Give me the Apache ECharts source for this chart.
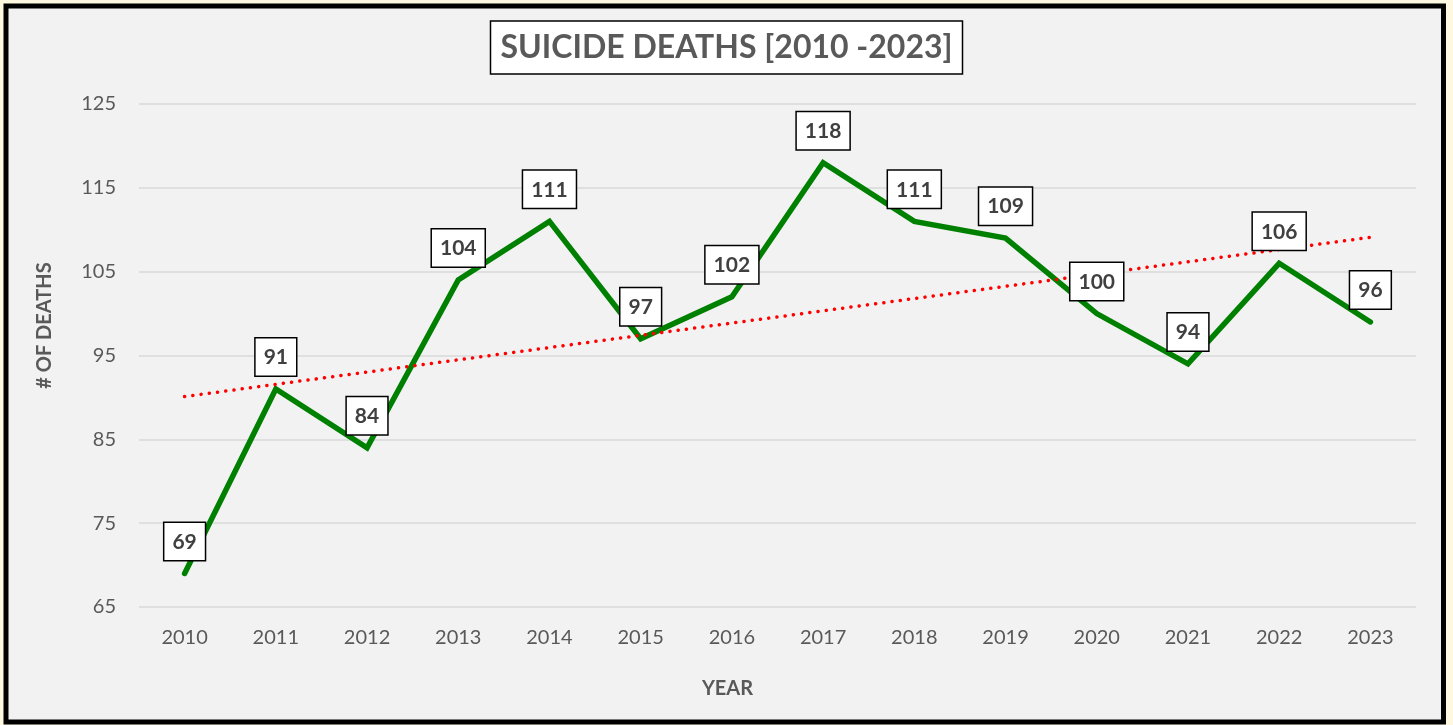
<!DOCTYPE html>
<html>
<head>
<meta charset="utf-8">
<script src="https://cdn.jsdelivr.net/npm/echarts@6/dist/echarts.min.js"></script>
<style>
  html, body { margin: 0; padding: 0; background: #fff8e1; }
  #chart { width: 1453px; height: 725px; }
</style>
</head>
<body>
<div id="chart"></div>
<script>
const years = ['2010', '2011', '2012', '2013', '2014', '2015', '2016', '2017', '2018', '2019', '2020', '2021', '2022', '2023'];
const deaths = [69, 91, 84, 104, 111, 97, 102, 118, 111, 109, 100, 94, 106, 99];
// labels as printed on the chart (last one reads 96)
const deathLabels = [69, 91, 84, 104, 111, 97, 102, 118, 111, 109, 100, 94, 106, 96];
// linear trend line ends
const trendStart = 90.1;
const trendEnd = 109.1;

const yTicks = { min: 65, max: 125, step: 10 };

const trend = years.map((y, i) => (i === 0 ? trendStart : i === years.length - 1 ? trendEnd : null));

const grey = '#595959';
const font = 'Lato, "Open Sans", sans-serif';

const chart = echarts.init(document.getElementById('chart'));

chart.setOption({
    animation: false,
    graphic: [
        {
            type: 'rect',
            z: -10,
            shape: { x: 6, y: 6, width: 1437.5, height: 716 },
            style: { fill: '#f2f2f2', stroke: '#000', lineWidth: 5 },
        },
    ],
    title: {
        text: 'SUICIDE DEATHS [2010 -2023]',
        left: 'center',
        top: 21,
        backgroundColor: '#fff',
        borderColor: '#000',
        borderWidth: 1.5,
        padding: [9, 10, 8, 10],
        textStyle: {
            fontFamily: font,
            fontSize: 32,
            fontWeight: 'bold',
            color: grey,
            lineHeight: 36,
        },
    },
    grid: { left: 139, right: 37, top: 104, bottom: 118 },
    xAxis: {
        type: 'category',
        data: years,
        boundaryGap: true,
        name: 'YEAR',
        nameLocation: 'middle',
        nameGap: 72,
        nameTextStyle: {
            fontFamily: font, fontSize: 20, fontWeight: 'bold', color: grey,
            padding: [0, 100, 0, 0],
        },
        axisLine: { show: false },
        axisTick: { show: false },
        axisLabel: { fontFamily: font, fontSize: 20, color: grey, margin: 21 },
    },
    yAxis: {
        type: 'value',
        min: yTicks.min,
        max: yTicks.max,
        interval: yTicks.step,
        name: '# OF DEATHS',
        nameLocation: 'middle',
        nameGap: 84,
        nameRotate: 90,
        nameTextStyle: {
            fontFamily: font, fontSize: 20, fontWeight: 'bold', color: grey,
            padding: [0, 0, 0, 60],
        },
        axisLine: { show: false },
        axisTick: { show: false },
        axisLabel: { fontFamily: font, fontSize: 20, color: grey, margin: 23 },
        splitLine: { lineStyle: { color: '#d9d9d9', width: 1.5 } },
    },
    series: [
        {
            name: 'Deaths',
            type: 'line',
            z: 2,
            data: deaths,
            symbol: 'none',
            lineStyle: { color: '#008000', width: 5.5, cap: 'round', join: 'miter' },
            silent: true,
        },
        {
            name: 'Trend',
            type: 'line',
            z: 3,
            data: trend,
            connectNulls: true,
            symbol: 'none',
            lineStyle: { color: '#ff0000', width: 3.5, type: [0.1, 8.2], cap: 'round' },
            silent: true,
        },
        {
            name: 'Labels',
            type: 'scatter',
            z: 4,
            data: deaths,
            symbolSize: 1,
            itemStyle: { color: 'rgba(0,0,0,0)', opacity: 1 },
            label: {
                show: true,
                position: 'top',
                distance: 13,
                formatter: p => String(deathLabels[p.dataIndex]),
                fontFamily: font,
                fontSize: 21,
                fontWeight: 'bold',
                color: '#404040',
                lineHeight: 22,
                backgroundColor: '#fff',
                borderColor: '#000',
                borderWidth: 1.5,
                padding: [8, 8, 7, 8],
            },
            emphasis: { disabled: true },
            silent: true,
        },
    ],
});

window.addEventListener('resize', chart.resize);
</script>
</body>
</html>
